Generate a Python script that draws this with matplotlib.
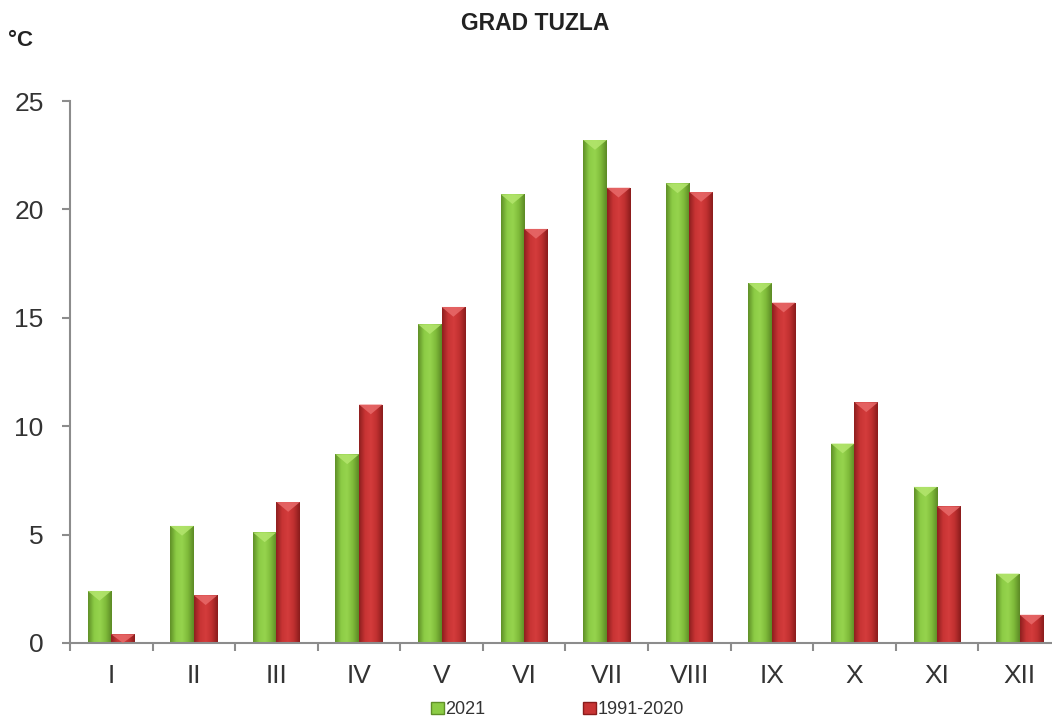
import matplotlib.pyplot as plt
import numpy as np
from matplotlib.colors import LinearSegmentedColormap
from matplotlib.patches import Polygon, Patch

months = ['I', 'II', 'III', 'IV', 'V', 'VI', 'VII', 'VIII', 'IX', 'X', 'XI', 'XII']
temp_2021 = [2.4, 5.4, 5.1, 8.7, 14.7, 20.7, 23.2, 21.2, 16.6, 9.2, 7.2, 3.2]
temp_norm = [0.4, 2.2, 6.5, 11.0, 15.5, 19.1, 21.0, 20.8, 15.7, 11.1, 6.3, 1.3]
series_names = ['2021', '1991-2020']

green = ['#5f8f27', '#8ccc45', '#96d44e', '#7fbb3a', '#5c8a25']
red = ['#8e1f1f', '#c83434', '#d43c3c', '#bf3030', '#8a1c1c']
green_top = '#b4e66e'
red_top = '#e86a6a'

plt.rcParams['font.family'] = ['Liberation Sans', 'DejaVu Sans']

fig = plt.figure(figsize=(10.52, 7.2), dpi=100)
ax = fig.add_axes([0.0665, 0.107, 0.942, 0.7527])

x = np.arange(len(months))
w = 0.285


def shade_bars(bars, cols, top_col):
    cmap = LinearSegmentedColormap.from_list('c', cols)
    grad = np.linspace(0, 1, 64).reshape(1, -1)
    for b in bars:
        x0 = b.get_x()
        x1 = x0 + b.get_width()
        h = b.get_height()
        im = ax.imshow(grad, cmap=cmap, aspect='auto', extent=(x0, x1, 0, h),
                       origin='lower', zorder=2, interpolation='bicubic')
        im.set_clip_path(b)
        d = min(0.45, h)
        tri = Polygon([(x0, h), (x1, h), ((x0 + x1) / 2, h - d)],
                      closed=True, facecolor=top_col, edgecolor='none',
                      alpha=0.85, zorder=3)
        ax.add_patch(tri)


b1 = ax.bar(x - w / 2, temp_2021, w, color='none', edgecolor='none', zorder=2)
b2 = ax.bar(x + w / 2, temp_norm, w, color='none', edgecolor='none', zorder=2)
shade_bars(b1, green, green_top)
shade_bars(b2, red, red_top)

ax.set_xlim(-0.5, 11.5)
ax.set_ylim(0, 25)
ax.set_yticks([0, 5, 10, 15, 20, 25])
ax.set_xticks(x)
ax.set_xticklabels(months)
ax.set_xticks(np.arange(-0.5, 12, 1), minor=True)
ax.tick_params(axis='x', which='major', length=0, pad=15, labelsize=19, labelcolor='#333333')
ax.tick_params(axis='x', which='minor', length=6, width=1.5, color='#8c8c8c', direction='out')
ax.tick_params(axis='y', length=6, width=1.5, color='#8c8c8c', pad=13, labelsize=19, labelcolor='#333333')

for s in ['top', 'right']:
    ax.spines[s].set_visible(False)
for s in ['left', 'bottom']:
    ax.spines[s].set_color('#8c8c8c')
    ax.spines[s].set_linewidth(1.5)

fig.text(0.509, 0.968, 'GRAD TUZLA', ha='center', va='center', fontsize=16.5,
         fontweight='bold', color='#222222')
fig.text(0.008, 0.944, '°C', ha='left', va='center', fontsize=16,
         fontweight='bold', color='#222222')

handles = [Patch(facecolor='#8ccc45', edgecolor='#5f8f27'),
           Patch(facecolor='#c83434', edgecolor='#8a1c1c')]
fig.legend(handles, series_names, loc='center', bbox_to_anchor=(0.53, 0.014),
           ncol=2, frameon=False, fontsize=13, handlelength=0.7, handleheight=0.7,
           handletextpad=0.1, columnspacing=5.4, labelcolor='#333333')

fig.savefig('out.png', dpi=100)
